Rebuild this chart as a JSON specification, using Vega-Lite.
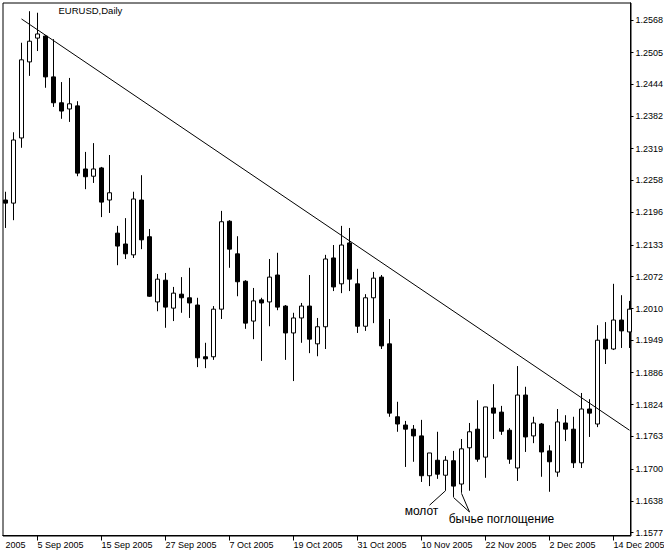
{
  "$schema": "https://vega.github.io/schema/vega-lite/v6.json",
  "width": 628,
  "height": 533,
  "autosize": {"type": "none"},
  "padding": {"left": 2.5, "top": 2.5, "right": 33.5, "bottom": 15.5},
  "background": "white",
  "title": {
    "text": "EURUSD,Daily",
    "anchor": "start",
    "frame": "group",
    "orient": "top",
    "offset": 0,
    "baseline": "alphabetic",
    "dx": 56,
    "dy": 21,
    "font": "Liberation Sans",
    "fontSize": 9.5,
    "fontWeight": "normal",
    "color": "black"
  },
  "config": {
    "view": {"stroke": "black", "strokeWidth": 1},
    "axis": {
      "domainColor": "black",
      "tickColor": "black",
      "labelColor": "black",
      "labelFont": "Liberation Sans",
      "labelFontSize": 9,
      "grid": false,
      "title": null,
      "translate": 0,
      "domainWidth": 1,
      "tickWidth": 1,
      "labelOverlap": false,
      "labelSeparation": 0
    },
    "axisY": {"labelOverlap": false, "labelFlush": false, "tickCount": 17}
  },
  "datasets": {
    "candles": [
      {"date": "2005-08-30", "open": 1.2220, "high": 1.2236, "low": 1.2166, "close": 1.2214},
      {"date": "2005-08-31", "open": 1.2214, "high": 1.2351, "low": 1.2181, "close": 1.2336},
      {"date": "2005-09-01", "open": 1.2340, "high": 1.2524, "low": 1.2321, "close": 1.2491},
      {"date": "2005-09-02", "open": 1.2487, "high": 1.2585, "low": 1.2460, "close": 1.2527},
      {"date": "2005-09-05", "open": 1.2533, "high": 1.2582, "low": 1.2508, "close": 1.2541},
      {"date": "2005-09-06", "open": 1.2537, "high": 1.2539, "low": 1.2437, "close": 1.2458},
      {"date": "2005-09-07", "open": 1.2458, "high": 1.2531, "low": 1.2400, "close": 1.2408},
      {"date": "2005-09-08", "open": 1.2408, "high": 1.2448, "low": 1.2377, "close": 1.2392},
      {"date": "2005-09-09", "open": 1.2396, "high": 1.2456, "low": 1.2371, "close": 1.2406},
      {"date": "2005-09-12", "open": 1.2402, "high": 1.2411, "low": 1.2266, "close": 1.2272},
      {"date": "2005-09-13", "open": 1.2280, "high": 1.2313, "low": 1.2241, "close": 1.2265},
      {"date": "2005-09-14", "open": 1.2266, "high": 1.2330, "low": 1.2253, "close": 1.2280},
      {"date": "2005-09-15", "open": 1.2282, "high": 1.2284, "low": 1.2187, "close": 1.2216},
      {"date": "2005-09-16", "open": 1.2220, "high": 1.2307, "low": 1.2195, "close": 1.2234},
      {"date": "2005-09-19", "open": 1.2156, "high": 1.2170, "low": 1.2094, "close": 1.2131},
      {"date": "2005-09-20", "open": 1.2135, "high": 1.2185, "low": 1.2106, "close": 1.2116},
      {"date": "2005-09-21", "open": 1.2114, "high": 1.2236, "low": 1.2108, "close": 1.2222},
      {"date": "2005-09-22", "open": 1.2220, "high": 1.2268, "low": 1.2125, "close": 1.2143},
      {"date": "2005-09-23", "open": 1.2149, "high": 1.2164, "low": 1.2033, "close": 1.2034},
      {"date": "2005-09-26", "open": 1.2023, "high": 1.2077, "low": 1.2005, "close": 1.2067},
      {"date": "2005-09-27", "open": 1.2065, "high": 1.2079, "low": 1.1973, "close": 1.2013},
      {"date": "2005-09-28", "open": 1.2011, "high": 1.2052, "low": 1.1986, "close": 1.2040},
      {"date": "2005-09-29", "open": 1.2038, "high": 1.2071, "low": 1.2002, "close": 1.2031},
      {"date": "2005-09-30", "open": 1.2031, "high": 1.2089, "low": 1.1992, "close": 1.2021},
      {"date": "2005-10-03", "open": 1.2017, "high": 1.2031, "low": 1.1897, "close": 1.1915},
      {"date": "2005-10-04", "open": 1.1917, "high": 1.1944, "low": 1.1895, "close": 1.1913},
      {"date": "2005-10-05", "open": 1.1917, "high": 1.2015, "low": 1.1911, "close": 1.2009},
      {"date": "2005-10-06", "open": 1.2009, "high": 1.2199, "low": 1.1990, "close": 1.2178},
      {"date": "2005-10-07", "open": 1.2179, "high": 1.2181, "low": 1.2089, "close": 1.2125},
      {"date": "2005-10-10", "open": 1.2116, "high": 1.2150, "low": 1.2034, "close": 1.2062},
      {"date": "2005-10-11", "open": 1.2063, "high": 1.2065, "low": 1.1971, "close": 1.1982},
      {"date": "2005-10-12", "open": 1.1986, "high": 1.2050, "low": 1.1951, "close": 1.2025},
      {"date": "2005-10-13", "open": 1.2027, "high": 1.2031, "low": 1.1909, "close": 1.2021},
      {"date": "2005-10-14", "open": 1.2023, "high": 1.2106, "low": 1.1976, "close": 1.2071},
      {"date": "2005-10-17", "open": 1.2075, "high": 1.2118, "low": 1.2007, "close": 1.2013},
      {"date": "2005-10-18", "open": 1.2015, "high": 1.2017, "low": 1.1911, "close": 1.1963},
      {"date": "2005-10-19", "open": 1.1963, "high": 1.2002, "low": 1.1870, "close": 1.1992},
      {"date": "2005-10-20", "open": 1.1992, "high": 1.2021, "low": 1.1944, "close": 1.2015},
      {"date": "2005-10-21", "open": 1.2015, "high": 1.2075, "low": 1.1924, "close": 1.1951},
      {"date": "2005-10-24", "open": 1.1942, "high": 1.1992, "low": 1.1918, "close": 1.1975},
      {"date": "2005-10-25", "open": 1.1975, "high": 1.2114, "low": 1.1932, "close": 1.2106},
      {"date": "2005-10-26", "open": 1.2108, "high": 1.2133, "low": 1.2044, "close": 1.2052},
      {"date": "2005-10-27", "open": 1.2058, "high": 1.2170, "low": 1.2040, "close": 1.2133},
      {"date": "2005-10-28", "open": 1.2137, "high": 1.2166, "low": 1.2044, "close": 1.2067},
      {"date": "2005-10-31", "open": 1.2058, "high": 1.2087, "low": 1.1963, "close": 1.1976},
      {"date": "2005-11-01", "open": 1.1976, "high": 1.2038, "low": 1.1967, "close": 1.2031},
      {"date": "2005-11-02", "open": 1.2031, "high": 1.2081, "low": 1.1982, "close": 1.2069},
      {"date": "2005-11-03", "open": 1.2071, "high": 1.2075, "low": 1.1932, "close": 1.1938},
      {"date": "2005-11-04", "open": 1.1942, "high": 1.1990, "low": 1.1801, "close": 1.1808},
      {"date": "2005-11-07", "open": 1.1801, "high": 1.1830, "low": 1.1772, "close": 1.1787},
      {"date": "2005-11-08", "open": 1.1785, "high": 1.1793, "low": 1.1704, "close": 1.1777},
      {"date": "2005-11-09", "open": 1.1777, "high": 1.1785, "low": 1.1714, "close": 1.1764},
      {"date": "2005-11-10", "open": 1.1764, "high": 1.1795, "low": 1.1675, "close": 1.1687},
      {"date": "2005-11-11", "open": 1.1687, "high": 1.1731, "low": 1.1667, "close": 1.1731},
      {"date": "2005-11-14", "open": 1.1717, "high": 1.1772, "low": 1.1681, "close": 1.1690},
      {"date": "2005-11-15", "open": 1.1688, "high": 1.1725, "low": 1.1658, "close": 1.1717},
      {"date": "2005-11-16", "open": 1.1716, "high": 1.1735, "low": 1.1646, "close": 1.1667},
      {"date": "2005-11-17", "open": 1.1671, "high": 1.1758, "low": 1.1654, "close": 1.1739},
      {"date": "2005-11-18", "open": 1.1741, "high": 1.1789, "low": 1.1658, "close": 1.1772},
      {"date": "2005-11-21", "open": 1.1777, "high": 1.1833, "low": 1.1714, "close": 1.1719},
      {"date": "2005-11-22", "open": 1.1723, "high": 1.1820, "low": 1.1683, "close": 1.1820},
      {"date": "2005-11-23", "open": 1.1818, "high": 1.1864, "low": 1.1758, "close": 1.1808},
      {"date": "2005-11-24", "open": 1.1810, "high": 1.1822, "low": 1.1766, "close": 1.1773},
      {"date": "2005-11-25", "open": 1.1775, "high": 1.1779, "low": 1.1710, "close": 1.1719},
      {"date": "2005-11-28", "open": 1.1702, "high": 1.1899, "low": 1.1677, "close": 1.1843},
      {"date": "2005-11-29", "open": 1.1843, "high": 1.1859, "low": 1.1733, "close": 1.1762},
      {"date": "2005-11-30", "open": 1.1764, "high": 1.1801, "low": 1.1750, "close": 1.1789},
      {"date": "2005-12-01", "open": 1.1787, "high": 1.1789, "low": 1.1685, "close": 1.1733},
      {"date": "2005-12-02", "open": 1.1735, "high": 1.1746, "low": 1.1656, "close": 1.1714},
      {"date": "2005-12-05", "open": 1.1694, "high": 1.1816, "low": 1.1685, "close": 1.1791},
      {"date": "2005-12-06", "open": 1.1789, "high": 1.1804, "low": 1.1754, "close": 1.1777},
      {"date": "2005-12-07", "open": 1.1777, "high": 1.1801, "low": 1.1702, "close": 1.1712},
      {"date": "2005-12-08", "open": 1.1712, "high": 1.1847, "low": 1.1702, "close": 1.1816},
      {"date": "2005-12-09", "open": 1.1816, "high": 1.1835, "low": 1.1762, "close": 1.1808},
      {"date": "2005-12-12", "open": 1.1787, "high": 1.1978, "low": 1.1781, "close": 1.1949},
      {"date": "2005-12-13", "open": 1.1951, "high": 1.1984, "low": 1.1903, "close": 1.1932},
      {"date": "2005-12-14", "open": 1.1932, "high": 1.2058, "low": 1.1930, "close": 1.1988},
      {"date": "2005-12-15", "open": 1.1988, "high": 1.2036, "low": 1.1934, "close": 1.1967},
      {"date": "2005-12-16", "open": 1.1965, "high": 1.2025, "low": 1.1934, "close": 1.2009}
    ],
    "lines": [
      {"from": "2005-09-01", "to": "2005-12-16", "start": 1.2570, "end": 1.1775},
      {"from": "2005-11-11", "to": "2005-11-15", "start": 1.1630, "end": 1.1658},
      {"from": "2005-11-16", "to": "2005-11-18", "start": 1.1645, "end": 1.1617},
      {"from": "2005-11-17", "to": "2005-11-18", "start": 1.1653, "end": 1.1617}
    ],
    "notes": [
      {"date": "2005-11-10", "price": 1.1611, "label": "молот"},
      {"date": "2005-11-24", "price": 1.1596, "label": "бычье поглощение"}
    ]
  },
  "layer": [
    {
      "data": {"name": "candles"},
      "mark": {"type": "rule", "color": "black", "strokeWidth": 1},
      "encoding": {
        "x": {
          "field": "date",
          "type": "ordinal",
          "scale": {"type": "point", "padding": 0.25, "align": 0.75},
          "axis": {
            "orient": "bottom",
            "values": ["2005-08-30", "2005-09-05", "2005-09-15", "2005-09-27", "2005-10-07", "2005-10-19", "2005-10-31", "2005-11-10", "2005-11-22", "2005-12-02", "2005-12-14"],
            "labelExpr": "datum.value == '2005-08-30' ? '2005' : utcFormat(utcParse(datum.value, '%Y-%m-%d'), '%-d %b %Y')",
            "labelAlign": "left",
            "labelBaseline": "top",
            "labelAngle": 0,
            "labelPadding": 0,
            "labelOverlap": false,
            "tickSize": 5,
            "tickOpacity": {"condition": {"test": "datum.value == '2005-08-30'", "value": 0}, "value": 1}
          }
        },
        "y": {
          "field": "low",
          "type": "quantitative",
          "scale": {"domain": [1.157148, 1.260183], "nice": false, "zero": false},
          "axis": {
            "orient": "right",
            "values": [1.2568, 1.2505, 1.2444, 1.2382, 1.2319, 1.2258, 1.2196, 1.2133, 1.2072, 1.2010, 1.1949, 1.1886, 1.1824, 1.1763, 1.1700, 1.1638, 1.1577],
            "format": ".4f",
            "tickSize": 3,
            "labelPadding": 2,
            "labelOverlap": false,
            "labelFlush": false,
            "labelFontSize": 9
          }
        },
        "y2": {"field": "high"}
      }
    },
    {
      "data": {"name": "candles"},
      "mark": {"type": "bar", "width": 4, "stroke": "black", "strokeWidth": 1},
      "encoding": {
        "x": {"field": "date", "type": "ordinal"},
        "y": {"field": "open", "type": "quantitative"},
        "y2": {"field": "close"},
        "fill": {
          "condition": {"test": "datum.close > datum.open", "value": "white"},
          "value": "black"
        }
      }
    },
    {
      "data": {"name": "lines"},
      "mark": {"type": "rule", "color": "black", "strokeWidth": 1},
      "encoding": {
        "x": {"field": "from", "type": "ordinal"},
        "x2": {"field": "to"},
        "y": {"field": "start", "type": "quantitative"},
        "y2": {"field": "end"}
      }
    },
    {
      "data": {"name": "notes"},
      "mark": {"type": "text", "font": "Liberation Sans", "fontSize": 12, "align": "center", "baseline": "alphabetic", "color": "black"},
      "encoding": {
        "x": {"field": "date", "type": "ordinal"},
        "y": {"field": "price", "type": "quantitative"},
        "text": {"field": "label"}
      }
    }
  ]
}
